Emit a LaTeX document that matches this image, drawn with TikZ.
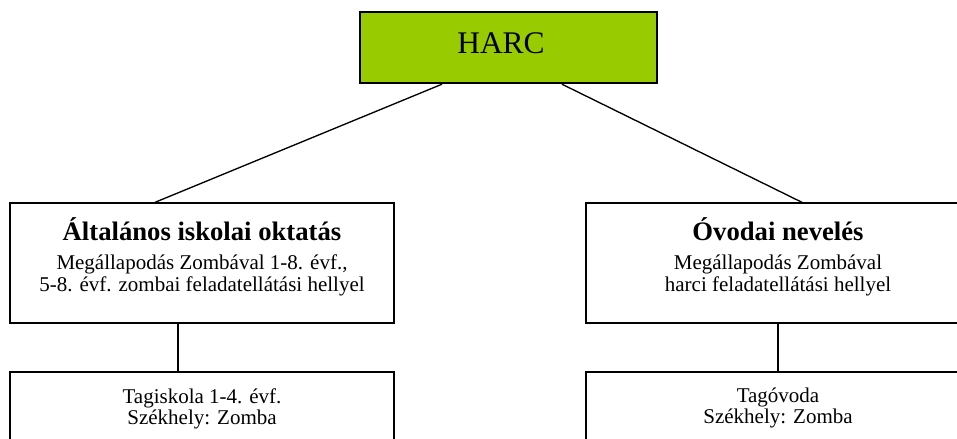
\documentclass[tikz,border=0pt]{standalone}
\usepackage{fontspec}
\setmainfont{Liberation Serif}
\definecolor{harcgreen}{HTML}{99CC00}

\begin{document}
\begin{tikzpicture}[x=0.75pt, y=-0.75pt,
	unitbox/.style={draw, line width=1pt, minimum width=288pt, minimum height=90pt, inner sep=0pt},
	headtext/.style={align=center, inner sep=0pt, anchor=north, font=\fontsize{15.75}{16.5}\selectfont},
	subtext/.style={align=center, inner sep=0pt, anchor=north, font=\fontsize{15.75}{15.75}\selectfont}]
	\clip (0,0) rectangle (957,439);
	% top box
	\node [draw, line width=1.8pt, fill=harcgreen, minimum width=222.75pt, minimum height=53.25pt] (harc) at (508.5,47.5) {};
	\node [anchor=base, inner sep=0pt, font=\fontsize{23.6}{28}\selectfont] (harclabel) at (501,53) {HARC};
	% second row
	\node [unitbox] (alt) at (202,263) {};
	\node [unitbox] (ovo) at (778,263) {};
	\node [headtext] (altlabel) at (202,217) {{\fontsize{20}{24}\bfseries Általános iskolai oktatás}\\[5.5pt]
		Megállapodás Zombával 1-8. évf.,\\ 5-8. évf. zombai feladatellátási hellyel};
	\node [headtext] (ovolabel) at (778,217) {{\fontsize{20}{24}\bfseries Óvodai nevelés}\\[5.5pt]
		Megállapodás Zombával\\ harci feladatellátási hellyel};
	% third row
	\node [unitbox] (altsub) at (202,432) {};
	\node [unitbox] (ovosub) at (778,432) {};
	\node [subtext] (altsublabel) at (202,388) {Tagiskola 1-4. évf.\\ Székhely: Zomba};
	\node [subtext] (ovosublabel) at (778,388) {Tagóvoda\\ Székhely: Zomba};
	% lines
	\draw [line width=1pt] ([xshift=-49.875pt]harc.south) -- ([xshift=-35.25pt]alt.north);
	\draw [line width=1pt] ([xshift=40.125pt]harc.south) -- ([xshift=18pt]ovo.north);
	\draw [line width=1pt] ([xshift=-18pt]alt.south) -- ([xshift=-18pt]altsub.north);
	\draw [line width=1pt] (ovo.south) -- (ovosub.north);
\end{tikzpicture}
\end{document}
